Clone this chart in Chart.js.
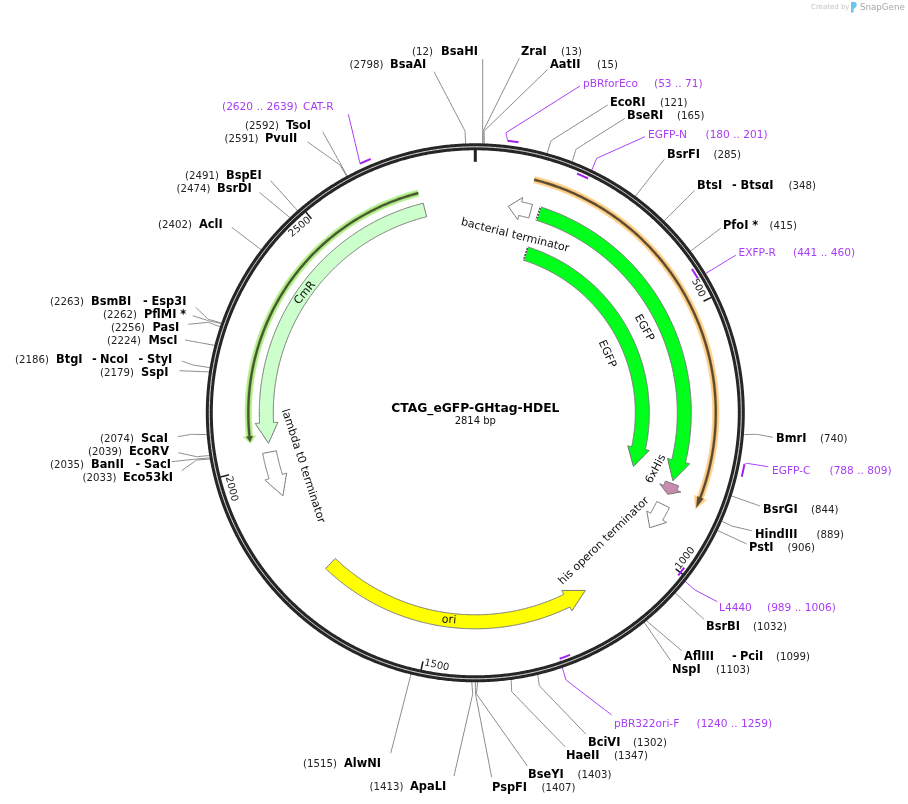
<!DOCTYPE html>
<html><head><meta charset="utf-8">
<style>html,body{margin:0;padding:0;background:#fff}canvas{display:block}</style>
<script src="https://cdn.jsdelivr.net/npm/chart.js@4"></script>
</head><body><canvas id="c" width="908" height="804"></canvas>
<script>
// ---------- DATA ----------
const plasmidName = 'CTAG_eGFP-GHtag-HDEL';
const plasmidLength = 2814;
const tickBps = [0, 500, 1000, 1500, 2000, 2500];

const siteNames = ['BsaHI','BsaAI','ZraI','AatII','EcoRI','BseRI','BsrFI','BtsI - BtsαI','PfoI *','BmrI','BsrGI','HindIII','PstI','BsrBI','AflIII - PciI','NspI','BciVI','HaeII','BseYI','PspFI','ApaLI','AlwNI','Eco53kI','BanII - SacI','EcoRV','ScaI','SspI','BtgI - NcoI - StyI','MscI','PasI','PflMI *','BsmBI - Esp3I','AclI','BsrDI','BspEI','PvuII','TsoI'];
const siteBps = [12,2798,13,15,121,165,285,348,415,740,844,889,906,1032,1099,1103,1302,1347,1403,1407,1413,1515,2033,2035,2039,2074,2179,2186,2224,2256,2262,2263,2402,2474,2491,2591,2592];

const primerNames = ['CAT-R','pBRforEco','EGFP-N','EXFP-R','EGFP-C','L4440','pBR322ori-F'];
const primerStarts = [2620,53,180,441,788,989,1240];
const primerEnds = [2639,71,201,460,809,1006,1259];

// wide features: start bp, head base bp, tip bp
const featureNames = ['EGFP','EGFP','bacterial terminator','his operon terminator','6xHis','ori','CmR','lambda t0 terminator'];
const featureStarts = [137.5,137.5,120,907,858,1750,2705,2026];
const featureBases = [808,799,97,936.5,868,1204,2089,1972];
const featureTips = [852,850,71,964.5,883,1158.5,2045,1928];

// thin features drawn as a core with a halo
const thinNames = ['orange ORF','CmR ORF'];
const thinStarts = [111,2700];
const thinBases = [865,2064];
const thinTips = [888,2050];

// ---------- LAYOUT / STYLE ----------
const CX = 475.3, CY = 412.8, RING_R = 266;
const polar = (bp, r) => { const a = bp / plasmidLength * 2 * Math.PI; return {x: CX + r * Math.sin(a), y: CY - r * Math.cos(a)}; };
const pt = (x, y) => ({x, y});

// [name xs, number x, row y, leader via-points]
const siteLayout = [
 [[441],412,51,[[482.7,131],[482.7,59]]],
 [[390],349.5,64,[[465,131],[434,71.7]]],
 [[521],561,51,[[483.2,131],[519.3,58.3]]],
 [[550],597,64,[[484.2,131],[547.7,69.3]]],
 [[610],660,102,[[551,140.7],[607.7,105]]],
 [[627],677,115,[[576,149.3],[625,118.3]]],
 [[667],713.5,154,[[664.3,159.3]]],
 [[697,732,740.5],788.5,185,[[695,190]]],
 [[723],769.5,225,[[720.7,228.3]]],
 [[776],820,438,[[756.7,434.3],[772.7,437.3]]],
 [[763],811,509,[[760,506]]],
 [[755],816.5,534,[[731.7,526],[751.7,530.7]]],
 [[749],787.5,547,[[746.7,544]]],
 [[706],753,626,[[704,619.3]]],
 [[684,732,740],776,656,[[681.7,650.7]]],
 [[672],716,669,[[670.7,660.7]]],
 [[588],633,742,[[539.3,685.7],[586,734.3]]],
 [[566],614,755,[[511.7,691.7],[565,746.7]]],
 [[528],577.5,774,[[476.5,694],[527.3,766]]],
 [[492],541.5,787,[[475.5,694],[491.7,777.3]]],
 [[410],369.5,786,[[472.7,694],[454,776]]],
 [[344],303,763,[[390.7,753.3]]],
 [[123],82.5,477,[[196.7,460],[181.7,470.7]]],
 [[91,135.5,144],50,464,[[196.7,459],[171.7,461.7]]],
 [[129],88,451,[[196.7,456.7],[178.3,452.7]]],
 [[141],100,438,[[191.7,434.3],[177.7,436.7]]],
 [[141],100,372,[[179.3,370.7]]],
 [[56,92,100,138.5,147],15,359,[[193,365],[181.7,361]]],
 [[148.5],107,340,[[200,342.7],[185,340]]],
 [[152.5],111,327,[[208.3,322.3],[188.3,324.3]]],
 [[144],103,314,[[208.3,320.7],[192.7,315.7]]],
 [[91,143,151.5],50,301,[[208.3,319.3],[195.7,307.3]]],
 [[199],158,224,[[231.7,227.3]]],
 [[217],176.5,188,[[259.3,192.3]]],
 [[226],185,175,[[270.7,180.7]]],
 [[265],224.5,138,[[340,165],[307.3,141.7]]],
 [[286],245,125,[[322.7,131.7]]]
];
// [name x, number x, row y, bar radius, leader start bp, leader start radius, via-points]
const primerLayout = [
 [303,222,106,274.5,2620,274.5,[[348.3,114]]],
 [583,654,83,274,53,274,[[506,132.7],[580,86]]],
 [648,705.5,134,260,201,262,[[596.7,158.3],[645,136.7]]],
 [738.5,793,252,260,460,262,[[736,255]]],
 [772,829.5,470,274,788,274,[[746.7,463.3],[768.3,466.7]]],
 [719,767,607,260,1006,262,[[695,590],[717.3,601.7]]],
 [614,696.5,723,260,1259,262,[[566,680],[611.7,715]]]
];
// [mid radius, shaft half width, head half width, fill]
const featureStyle = [
 [209,7,11.4,'#00ff1a'],[167,7,11,'#00ff1a'],[209,7,11.4,'#ffffff'],[209,7,11.4,'#ffffff'],
 [209,7,11.4,'#c78db0'],[209,7,11.4,'#ffff00'],[209,7,11.4,'#ccffcc'],[209.5,7,11.4,'#ffffff']
];
const thinStyle = [[240.5,'#ffcf87','#5b4a30'],[227,'#b5ee8c','#47582f']];
// [text, centre x, centre y, rotation deg]
const featureLabelLayout = [
 ['EGFP',644,328,61],['EGFP',607,354,66],['bacterial terminator',515,235.5,14],
 ['his operon terminator',604,541,-44],['6xHis',656,469,-62],['ori',449,620,4],
 ['CmR',305,293,-50],['lambda t0 terminator',303,466,72]
];
const PURPLE = '#a020f0', PURPLE_TEXT = '#a83cf5', LEADER = '#8a8a8a', DARK = '#262626', EDGE = '#757575';
const FF = '"DejaVu Sans"';

// ---------- GEOMETRY HELPERS ----------
const arcPts = (a, b, r) => {
  const n = Math.max(2, Math.ceil(Math.abs(b - a) / 6)), out = [];
  for (let i = 0; i <= n; i++) out.push(polar(a + (b - a) * i / n, r));
  return out;
};
const arrowPts = (s, b, t, r, hs, hh) => {
  const p = [...arcPts(s, b, r + hs), polar(b, r + hh), polar(t, r), polar(b, r - hh), ...arcPts(b, s, r - hs)];
  p.push(p[0]);
  return p;
};
// the tiny tension keeps Chart.js from snapping line vertices to whole pixels
const line = (data, color, width, extra) => Object.assign({data, showLine: true, fill: false, borderColor: color, borderWidth: width, pointRadius: 0, tension: 0.0001, borderJoinStyle: 'round', borderCapStyle: 'butt'}, extra || {});
const shape = (data, fillc, edge, width) => line(data, edge, width, {fill: 'shape', backgroundColor: fillc, borderJoinStyle: 'miter'});

// ---------- DATASETS (paint order) ----------
const paint = [];
siteNames.forEach((n, i) => {
  const via = siteLayout[i][3].map(v => pt(v[0], v[1]));
  paint.push(line([polar(siteBps[i], 268), ...via], LEADER, 1));
});
primerNames.forEach((n, i) => {
  const l = primerLayout[i];
  paint.push(line([polar(l[4], l[5]), ...l[6].map(v => pt(v[0], v[1]))], PURPLE_TEXT, 1));
});
paint.push(line(arcPts(0, plasmidLength, RING_R), DARK, 7));
paint.push(line(arcPts(0, plasmidLength, RING_R), '#ffffff', 0.9));
tickBps.forEach(b => paint.push(line([polar(b, 263), polar(b, b === 0 ? 251 : 254)], '#222', b === 0 ? 3 : 1.6)));
primerNames.forEach((n, i) => paint.push(line(arcPts(primerStarts[i], primerEnds[i], primerLayout[i][3]), PURPLE, 2)));
thinNames.forEach((n, i) => {
  const s = thinStyle[i];
  paint.push(shape(arrowPts(thinStarts[i], thinBases[i], thinTips[i], s[0], 3.3, 6.5), s[1], s[1], 0.5));
  const coreTip = thinTips[i] + Math.sign(thinTips[i] - thinStarts[i]) * -3;
  paint.push(shape(arrowPts(thinStarts[i], thinBases[i], coreTip, s[0], 1.1, 3.2), s[2], s[2], 0.3));
});
featureNames.forEach((n, i) => {
  const s = featureStyle[i];
  paint.push(shape(arrowPts(featureStarts[i], featureBases[i], featureTips[i], s[0], s[1], s[2]), s[3], EDGE, 1));
});
[0, 1].forEach(i => {
  const s = featureStyle[i];
  paint.push(line([polar(featureStarts[i], s[0] + s[1]), polar(featureStarts[i], s[0] - s[1])], '#333', 1.6));
  paint.push(line([polar(featureStarts[i], s[0] + s[1]), polar(featureStarts[i], s[0] - s[1])], '#fff', 1.4, {borderDash: [1.5, 1.5]}));
});

// ---------- TEXT PLUGIN ----------
const textPlugin = {
  id: 'mapText',
  afterDatasetsDraw(chart) {
    const ctx = chart.ctx, X = chart.scales.x, Y = chart.scales.y;
    const put = (t, x, y, font, color, align) => {
      ctx.font = font; ctx.fillStyle = color; ctx.textAlign = align || 'left'; ctx.textBaseline = 'middle';
      ctx.fillText(t, X.getPixelForValue(x), Y.getPixelForValue(y));
    };
    const rot = (t, x, y, deg, font, color) => {
      ctx.save();
      ctx.translate(X.getPixelForValue(x), Y.getPixelForValue(y));
      ctx.rotate(deg * Math.PI / 180);
      ctx.font = font; ctx.fillStyle = color; ctx.textAlign = 'center'; ctx.textBaseline = 'middle';
      ctx.fillText(t, 0, 0);
      ctx.restore();
    };
    const BOLD = `bold 11.4px ${FF}`, REG = `10.2px ${FF}`, PR = `10.6px ${FF}`;
    siteNames.forEach((n, i) => {
      const l = siteLayout[i], parts = n.split(' - ');
      put(`(${siteBps[i]})`, l[1], l[2] + 1, REG, '#222');
      l[0].forEach((x, k) => put(k % 2 ? '-' : parts[k / 2], x, l[2] + 1, BOLD, '#000'));
    });
    primerNames.forEach((n, i) => {
      const l = primerLayout[i];
      put(n, l[0], l[2] + 1, PR, PURPLE_TEXT);
      put(`(${primerStarts[i]} .. ${primerEnds[i]})`, l[1], l[2] + 1, PR, PURPLE_TEXT);
    });
    featureLabelLayout.forEach(l => rot(l[0], l[1], l[2], l[3], `11.1px ${FF}`, '#111'));
    tickBps.forEach(b => {
      if (!b) return;
      const ang = b / plasmidLength * 360, c = polar(b - 3.2 / 360 * plasmidLength, 255.5);
      const deg = (ang > 90 && ang < 270) ? ang - 180 : ang;
      rot(String(b), c.x, c.y, deg, `10px ${FF}`, '#222');
    });
    put(plasmidName, CX, 408.5, `bold 12.3px ${FF}`, '#000', 'center');
    put(plasmidLength + ' bp', CX, 421.5, `10px ${FF}`, '#111', 'center');
    // watermark
    put('Created by', 811, 7.5, `7px ${FF}`, '#c4c4c4');
    put('SnapGene', 860, 7.5, `8.7px ${FF}`, '#a8a8a8');
    const lx = X.getPixelForValue(851), ly = Y.getPixelForValue(2);
    ctx.fillStyle = '#69c6ee';
    ctx.beginPath(); ctx.moveTo(lx, ly); ctx.lineTo(lx + 4, ly);
    ctx.quadraticCurveTo(lx + 7, ly + 2, lx + 5, ly + 5);
    ctx.lineTo(lx + 2.5, ly + 7); ctx.lineTo(lx + 2.5, ly + 10.5); ctx.lineTo(lx, ly + 10.5); ctx.closePath(); ctx.fill();
  }
};

// ---------- CHART ----------
new Chart(document.getElementById('c'), {
  type: 'scatter',
  data: {datasets: paint.slice().reverse()},
  options: {
    responsive: false, animation: false, devicePixelRatio: 1,
    layout: {padding: 0},
    clip: false,
    plugins: {legend: {display: false}, tooltip: {enabled: false}},
    events: [],
    scales: {
      x: {type: 'linear', min: 0, max: 908, display: false},
      y: {type: 'linear', min: 0, max: 804, reverse: true, display: false}
    }
  },
  plugins: [textPlugin]
});
</script></body></html>
